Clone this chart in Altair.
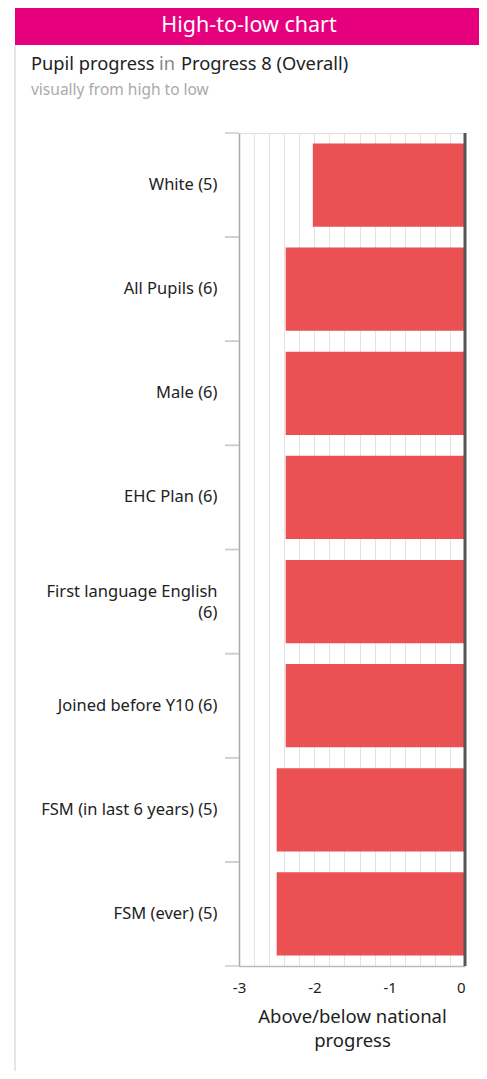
import altair as alt
import pandas as pd

categories = [
    "White (5)",
    "All Pupils (6)",
    "Male (6)",
    "EHC Plan (6)",
    "First language English|(6)",
    "Joined before Y10 (6)",
    "FSM (in last 6 years) (5)",
    "FSM (ever) (5)",
]
values = [-2.02, -2.38, -2.38, -2.38, -2.38, -2.38, -2.50, -2.50]
grid_values = [-3.0, -2.8, -2.6, -2.4, -2.2, -2.0, -1.8, -1.6, -1.4, -1.2, -1.0,
               -0.8, -0.6, -0.4, -0.2, 0.0]

FONT = "Noto Sans"
df = pd.DataFrame({"cat": categories, "val": values})
one = pd.DataFrame({"a": [0]})

W, H = 226, 833

y_enc = alt.Y("cat:N", sort=categories, scale=alt.Scale(paddingInner=0, paddingOuter=0),
              axis=alt.Axis(title=None, ticks=False, domain=True, domainColor="#aaaaaa",
                            domainWidth=1.5, labelPadding=22, labelFontSize=16.5,
                            labelColor="#222222", labelFont=FONT, labelLimit=230,
                            labelOffset={"condition": {"test": "indexof(datum.label, '|') >= 0", "value": -10}, "value": 0},
                            labelExpr="split(datum.label, '|')", labelLineHeight=21))

x_enc = alt.X("val:Q", scale=alt.Scale(domain=[-3, 0], nice=False, zero=False),
              axis=alt.Axis(values=grid_values, tickCount=40, grid=True, gridColor="#e3e3e3", gridWidth=1,
                            ticks=False, domain=True, domainColor="#bbbbbb", domainWidth=1.5,
                            labelOverlap=False, labelFlush=False,
                            labelAlign={"condition": {"test": "datum.value == 0", "value": "right"}, "value": "center"},
                            labelExpr="abs(datum.value - round(datum.value)) < 0.001 ? (round(datum.value) + '') : ''",
                            labelFontSize=15, labelColor="#222222", labelFont=FONT, labelPadding=14,
                            title=["Above/below national", "progress"], titleFontSize=18.5,
                            titleFont=FONT, titleFontWeight="normal", titleColor="#222222",
                            titlePadding=12, titleLineHeight=24))

bars = alt.Chart(df).mark_bar(color="#EB5152", height={"band": 0.8}).encode(x=x_enc, y=y_enc)

ticks_top = alt.Chart(df).mark_rule(color="#cccccc", strokeWidth=1.5).encode(
    y=alt.Y("cat:N", sort=categories, bandPosition=0), x=alt.value(-14), x2=alt.value(0))
ticks_bot = alt.Chart(df).mark_rule(color="#cccccc", strokeWidth=1.5).encode(
    y=alt.Y("cat:N", sort=categories, bandPosition=1), x=alt.value(-14), x2=alt.value(0))

zero = alt.Chart(one).mark_rule(color="#555555", strokeWidth=3).encode(
    x=alt.datum(0), y=alt.value(0), y2=alt.value(H))

header = alt.Chart(one).mark_rect(color="#E6007E").encode(
    x=alt.value(-224), x2=alt.value(243), y=alt.value(-125), y2=alt.value(-88))
header_text = alt.Chart(one).mark_text(text="High-to-low chart", color="white", fontSize=21.5,
                                       font=FONT, align="center", baseline="middle").encode(
    x=alt.value(10), y=alt.value(-107))

border_l = alt.Chart(one).mark_rule(color="#dddddd", strokeWidth=1.5).encode(
    x=alt.value(-224), y=alt.value(-88), y2=alt.value(940))
border_r = alt.Chart(one).mark_rule(color="#dddddd", strokeWidth=1.5).encode(
    x=alt.value(242), y=alt.value(-88), y2=alt.value(940))

sub1 = alt.Chart(one).mark_text(text="Pupil progress", color="#222222", fontSize=18.3, font=FONT,
                                align="left", baseline="alphabetic").encode(x=alt.value(-208), y=alt.value(-63))
sub2 = alt.Chart(one).mark_text(text="in", color="#888888", fontSize=18.3, font=FONT,
                                align="left", baseline="alphabetic").encode(x=alt.value(-80), y=alt.value(-63))
sub3 = alt.Chart(one).mark_text(text="Progress 8 (Overall)", color="#222222", fontSize=18.3, font=FONT,
                                align="left", baseline="alphabetic").encode(x=alt.value(-58), y=alt.value(-63))
sub4 = alt.Chart(one).mark_text(text="visually from high to low", color="#aaaaaa", fontSize=15.5, font=FONT,
                                align="left", baseline="alphabetic").encode(x=alt.value(-208), y=alt.value(-38))

chart = alt.layer(
    border_l, border_r, header, header_text, sub1, sub2, sub3, sub4,
    bars, ticks_top, ticks_bot, zero
).properties(
    width=W, height=H,
    autosize=alt.AutoSizeParams(type="none"),
    padding={"left": 231, "top": 125, "right": 14, "bottom": 105},
).configure_view(stroke=None).configure(background="white")

chart.save("out.html", embed_options={"renderer": "svg", "actions": False})
